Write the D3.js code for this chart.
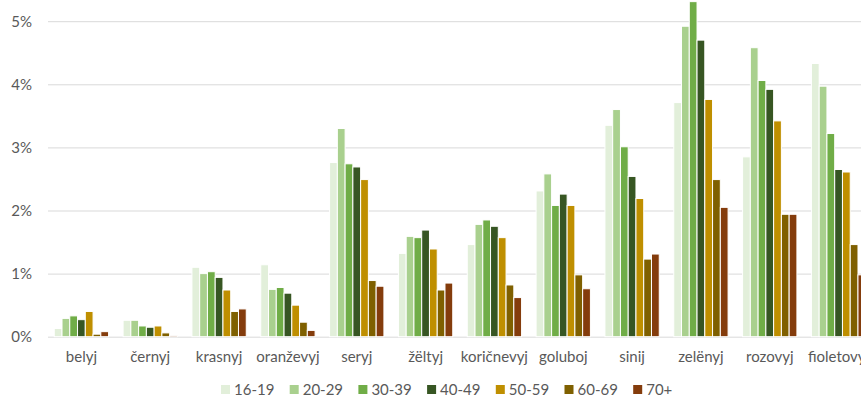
<!DOCTYPE html>
<html>
<head>
<meta charset="utf-8">
<script src="https://cdn.jsdelivr.net/npm/d3@7"></script>
<style>
  html, body { margin: 0; padding: 0; background: #fff; overflow: hidden; }
  svg { display: block; }
  text { font-family: Lato, "Open Sans", sans-serif; fill: #595959; }
</style>
</head>
<body>
<svg id="chart" width="861" height="397"></svg>
<script>
// Colour names and age groups
const categories = ["belyj", "černyj", "krasnyj", "oranževyj", "seryj", "žëltyj",
  "koričnevyj", "goluboj", "sinij", "zelënyj", "rozovyj", "fioletovyj"];
const ageGroups = ["16-19", "20-29", "30-39", "40-49", "50-59", "60-69", "70+"];

// Share (%) per colour, one array per age group
const s16_19 = [0.13, 0.26, 1.10, 1.14, 2.76, 1.32, 1.46, 2.31, 3.35, 3.71, 2.85, 4.33];
const s20_29 = [0.29, 0.26, 1.00, 0.75, 3.30, 1.59, 1.78, 2.58, 3.60, 4.92, 4.58, 3.97];
const s30_39 = [0.33, 0.17, 1.03, 0.78, 2.74, 1.57, 1.85, 2.08, 3.01, 5.31, 4.06, 3.22];
const s40_49 = [0.27, 0.15, 0.94, 0.69, 2.69, 1.69, 1.75, 2.26, 2.54, 4.70, 3.92, 2.65];
const s50_59 = [0.40, 0.17, 0.74, 0.50, 2.49, 1.39, 1.57, 2.08, 2.19, 3.76, 3.42, 2.61];
const s60_69 = [0.04, 0.06, 0.40, 0.23, 0.89, 0.74, 0.82, 0.98, 1.23, 2.49, 1.94, 1.46];
const s70p   = [0.08, 0.02, 0.44, 0.10, 0.80, 0.85, 0.62, 0.76, 1.31, 2.05, 1.94, 0.98];
const seriesValues = [s16_19, s20_29, s30_39, s40_49, s50_59, s60_69, s70p];

const yTicks = [0, 1, 2, 3, 4, 5];
const colors = ["#e2efda", "#a9d08e", "#70ad47", "#375623", "#bf8f00", "#7f6000", "#843c0c"];

const svg = d3.select("#chart");
const left = 47, right = 873, baseY = 336.7, pxPerPct = 63.1;

const x0 = d3.scaleBand().domain(categories).range([left, right]).padding(0);
const x1 = d3.scaleBand().domain(ageGroups).range([0, x0.bandwidth()])
  .paddingInner(0).paddingOuter(0.935);
const y = d3.scaleLinear().domain([0, 6]).range([baseY, baseY - 6 * pxPerPct]);
const color = d3.scaleOrdinal().domain(ageGroups).range(colors);

// Gridlines + y labels
const yAxis = d3.axisLeft(y).tickValues(yTicks).tickFormat(d => d + "%")
  .tickSize(-(right - left)).tickPadding(16);
const gy = svg.append("g").attr("transform", `translate(${left + 1},0)`).call(yAxis);
gy.select(".domain").remove();
gy.selectAll(".tick line").attr("stroke", "#d9d9d9").attr("stroke-width", 1);
gy.selectAll(".tick text").style("font-size", "15px").attr("fill", "#595959");

// Bars
const rows = categories.map((c, i) => ({ c, vals: ageGroups.map((g, k) => ({ g, v: seriesValues[k][i] })) }));
const groups = svg.append("g").selectAll("g").data(rows).join("g")
  .attr("transform", d => `translate(${x0(d.c)},0)`);
groups.selectAll("rect").data(d => d.vals).join("rect")
  .attr("x", d => x1(d.g))
  .attr("width", x1.bandwidth())
  .attr("y", d => y(d.v))
  .attr("height", d => baseY - y(d.v))
  .attr("fill", d => color(d.g))
  .attr("stroke", "#fff")
  .attr("stroke-width", 1);

// Category labels (the last one runs past the right edge)
const xAxis = d3.axisBottom(x0).tickSize(0).tickPadding(15);
const gx = svg.append("g").attr("transform", `translate(0,${baseY})`).call(xAxis);
gx.select(".domain").remove();
gx.selectAll(".tick text").style("font-size", "15px").attr("fill", "#595959");

// Legend
const legend = svg.append("g").attr("transform", "translate(221,390)");
const items = legend.selectAll("g").data(ageGroups).join("g")
  .attr("transform", (d, i) => `translate(${i * 68.7},0)`);
items.append("rect").attr("x", 0).attr("y", -5).attr("width", 9).attr("height", 9)
  .attr("fill", d => color(d));
items.append("text").attr("x", 13).attr("y", 0).attr("dy", "0.35em")
  .style("font-size", "15px").attr("fill", "#595959").text(d => d);
</script>
</body>
</html>
